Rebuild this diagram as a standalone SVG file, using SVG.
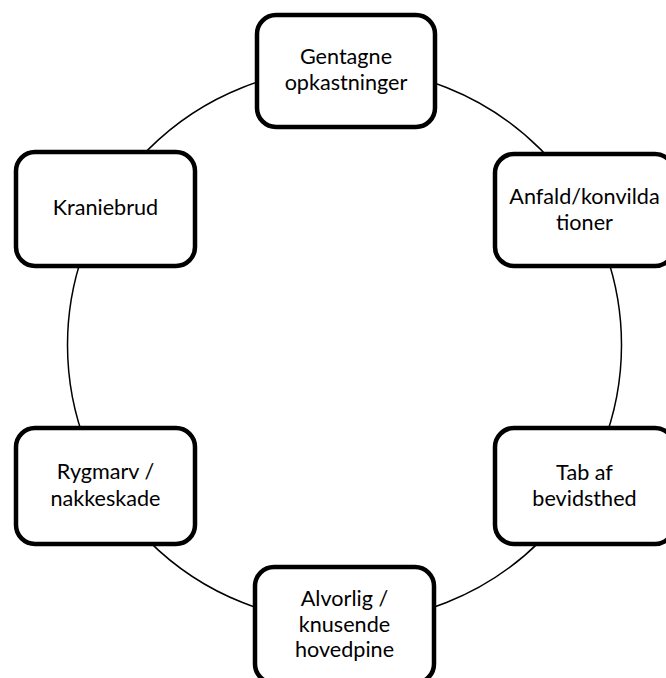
<svg xmlns="http://www.w3.org/2000/svg" width="666" height="678" viewBox="0 0 666 678">
<style>
.box{fill:#fff;stroke:#000;stroke-width:4.5}
.lbl{font-family:Lato,"Open Sans",sans-serif;font-size:21.6px;fill:#000;text-anchor:middle}
.conn{fill:none;stroke:#000;stroke-width:1.5}
</style>
<rect width="666" height="678" fill="#fff"/>
<g id="connectors">
<circle class="conn" cx="344.5" cy="345" r="277"/>
</g>
<g id="node-gentagne">
<rect class="box" x="257" y="15" width="178" height="112" rx="19"/>
<text class="lbl" x="346" y="64">Gentagne</text>
<text class="lbl" x="346" y="90">opkastninger</text>
</g>
<g id="node-anfald">
<rect class="box" x="495" y="154" width="179" height="112" rx="19"/>
<text class="lbl" x="584.5" y="204">Anfald/konvilda</text>
<text class="lbl" x="584.5" y="230">tioner</text>
</g>
<g id="node-kraniebrud">
<rect class="box" x="16" y="152" width="179" height="114" rx="19"/>
<text class="lbl" x="105.5" y="215">Kraniebrud</text>
</g>
<g id="node-rygmarv">
<rect class="box" x="16" y="428" width="179" height="116" rx="19"/>
<text class="lbl" x="105.5" y="479">Rygmarv /</text>
<text class="lbl" x="105.5" y="506">nakkeskade</text>
</g>
<g id="node-tab">
<rect class="box" x="495" y="428" width="179" height="116" rx="19"/>
<text class="lbl" x="584.5" y="480">Tab af</text>
<text class="lbl" x="584.5" y="506">bevidsthed</text>
</g>
<g id="node-alvorlig">
<rect class="box" x="255" y="567" width="179" height="116" rx="19"/>
<text class="lbl" x="344.5" y="606">Alvorlig /</text>
<text class="lbl" x="344.5" y="632">knusende</text>
<text class="lbl" x="344.5" y="657">hovedpine</text>
</g>
</svg>
